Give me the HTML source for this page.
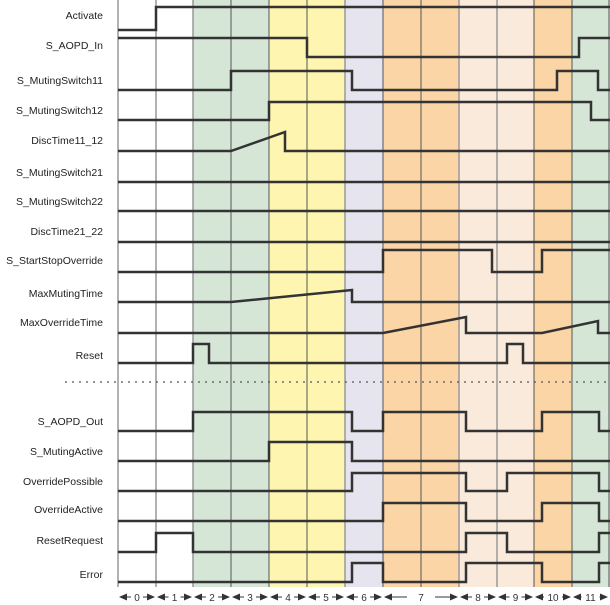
<!DOCTYPE html>
<html><head><style>body{margin:0;background:#fff}svg{display:block}</style></head><body>
<svg width="610" height="605" xmlns="http://www.w3.org/2000/svg" font-family="Liberation Sans, sans-serif">
<g stroke="none">
<rect x="193" y="0" width="76" height="587" fill="#d5e6d7"/>
<rect x="269" y="0" width="76" height="587" fill="#fef5b0"/>
<rect x="345" y="0" width="38" height="587" fill="#e6e4ef"/>
<rect x="383" y="0" width="76" height="587" fill="#fbd5a5"/>
<rect x="459" y="0" width="75" height="587" fill="#f9eadc"/>
<rect x="534" y="0" width="38" height="587" fill="#fbd5a5"/>
<rect x="572" y="0" width="38" height="587" fill="#d5e6d7"/>
</g>
<g stroke="#999" stroke-width="1.5">
<line x1="118" y1="0" x2="118" y2="587"/><line x1="156" y1="0" x2="156" y2="587"/><line x1="193" y1="0" x2="193" y2="587"/>
<line x1="345" y1="0" x2="345" y2="587"/><line x1="459" y1="0" x2="459" y2="587"/><line x1="497" y1="0" x2="497" y2="587"/>
</g>
<g stroke="#555" stroke-width="1">
<line x1="231" y1="0" x2="231" y2="587"/><line x1="269" y1="0" x2="269" y2="587"/><line x1="307" y1="0" x2="307" y2="587"/>
<line x1="383" y1="0" x2="383" y2="587"/><line x1="421" y1="0" x2="421" y2="587"/><line x1="534" y1="0" x2="534" y2="587"/>
<line x1="572" y1="0" x2="572" y2="587"/><line x1="609" y1="0" x2="609" y2="587"/>
</g>
<line x1="65" y1="382" x2="610" y2="382" stroke="#555" stroke-width="1.2" stroke-dasharray="2,5"/>
<g fill="none" stroke="#333" stroke-width="2.5">
<polyline points="118,30 156,30 156,7 610,7"/>
<polyline points="118,38 307,38 307,57 579,57 579,38 610,38"/>
<polyline points="118,90 231,90 231,71 352,71 352,90 557,90 557,71 598,71 598,90 610,90"/>
<polyline points="118,120 269,120 269,102 591,102 591,120 610,120"/>
<polyline points="118,151 231,151 285,132 285,151 610,151"/>
<polyline points="118,182 610,182"/>
<polyline points="118,211 610,211"/>
<polyline points="118,242 610,242"/>
<polyline points="118,272 383,272 383,250 492,250 492,272 542,272 542,250 610,250"/>
<polyline points="118,302 231,302 352,290 352,302 610,302"/>
<polyline points="118,333 383,333 466,317 466,333 542,333 598,321 598,333 610,333"/>
<polyline points="118,363 193,363 193,344 209,344 209,363 507,363 507,344 523,344 523,363 610,363"/>
<polyline points="118,431 193,431 193,412 352,412 352,431 383,431 383,412 466,412 466,431 542,431 542,412 599,412 599,431 610,431"/>
<polyline points="118,461 269,461 269,442 352,442 352,461 610,461"/>
<polyline points="118,491 352,491 352,473 466,473 466,491 507,491 507,473 599,473 599,491 610,491"/>
<polyline points="118,521 383,521 383,503 466,503 466,521 542,521 542,503 599,503 599,521 610,521"/>
<polyline points="118,552 156,552 156,533 193,533 193,552 466,552 466,533 507,533 507,552 599,552 599,533 610,533"/>
<polyline points="118,582 352,582 352,563 383,563 383,582 466,582 466,563 542,563 542,582 599,582 599,563 610,563"/>
</g>
<g font-size="10.5" fill="#222" text-anchor="end">
<text x="103" y="19">Activate</text>
<text x="103" y="49">S_AOPD_In</text>
<text x="103" y="84">S_MutingSwitch11</text>
<text x="103" y="114">S_MutingSwitch12</text>
<text x="103" y="144">DiscTime11_12</text>
<text x="103" y="176">S_MutingSwitch21</text>
<text x="103" y="205">S_MutingSwitch22</text>
<text x="103" y="235">DiscTime21_22</text>
<text x="103" y="264">S_StartStopOverride</text>
<text x="103" y="297">MaxMutingTime</text>
<text x="103" y="326">MaxOverrideTime</text>
<text x="103" y="359">Reset</text>
<text x="103" y="425">S_AOPD_Out</text>
<text x="103" y="455">S_MutingActive</text>
<text x="103" y="485">OverridePossible</text>
<text x="103" y="513">OverrideActive</text>
<text x="103" y="544">ResetRequest</text>
<text x="103" y="578">Error</text>
</g>
<g stroke="#333" stroke-width="1">
<path d="M123,597H131M143,597H151M161,597H168.5M180.5,597H188M198,597H206M218,597H226M236,597H244M256,597H264M274,597H282M294,597H302M312,597H320M332,597H340M350,597H358M370,597H378M388,597H407M435,597H454M464,597H472M484,597H492M502,597H509.5M521.5,597H529M539,597H544M562,597H567M577,597H581.5M599.5,597H604"/>
</g>
<g fill="#333">
<path d="M119,597l8,-3.5v7zM155,597l-8,-3.5v7zM157,597l8,-3.5v7zM192,597l-8,-3.5v7zM194,597l8,-3.5v7zM230,597l-8,-3.5v7zM232,597l8,-3.5v7zM268,597l-8,-3.5v7zM270,597l8,-3.5v7zM306,597l-8,-3.5v7zM308,597l8,-3.5v7zM344,597l-8,-3.5v7zM346,597l8,-3.5v7zM382,597l-8,-3.5v7zM384,597l8,-3.5v7zM458,597l-8,-3.5v7zM460,597l8,-3.5v7zM496,597l-8,-3.5v7zM498,597l8,-3.5v7zM533,597l-8,-3.5v7zM535,597l8,-3.5v7zM571,597l-8,-3.5v7zM573,597l8,-3.5v7zM608,597l-8,-3.5v7z"/>
</g>
<g font-size="10" fill="#333" text-anchor="middle">
<text x="137" y="601">0</text><text x="174.5" y="601">1</text><text x="212" y="601">2</text><text x="250" y="601">3</text>
<text x="288" y="601">4</text><text x="326" y="601">5</text><text x="364" y="601">6</text><text x="421" y="601">7</text>
<text x="478" y="601">8</text><text x="515.5" y="601">9</text><text x="553" y="601">10</text><text x="590.5" y="601">11</text>
</g>
</svg>
</body></html>
